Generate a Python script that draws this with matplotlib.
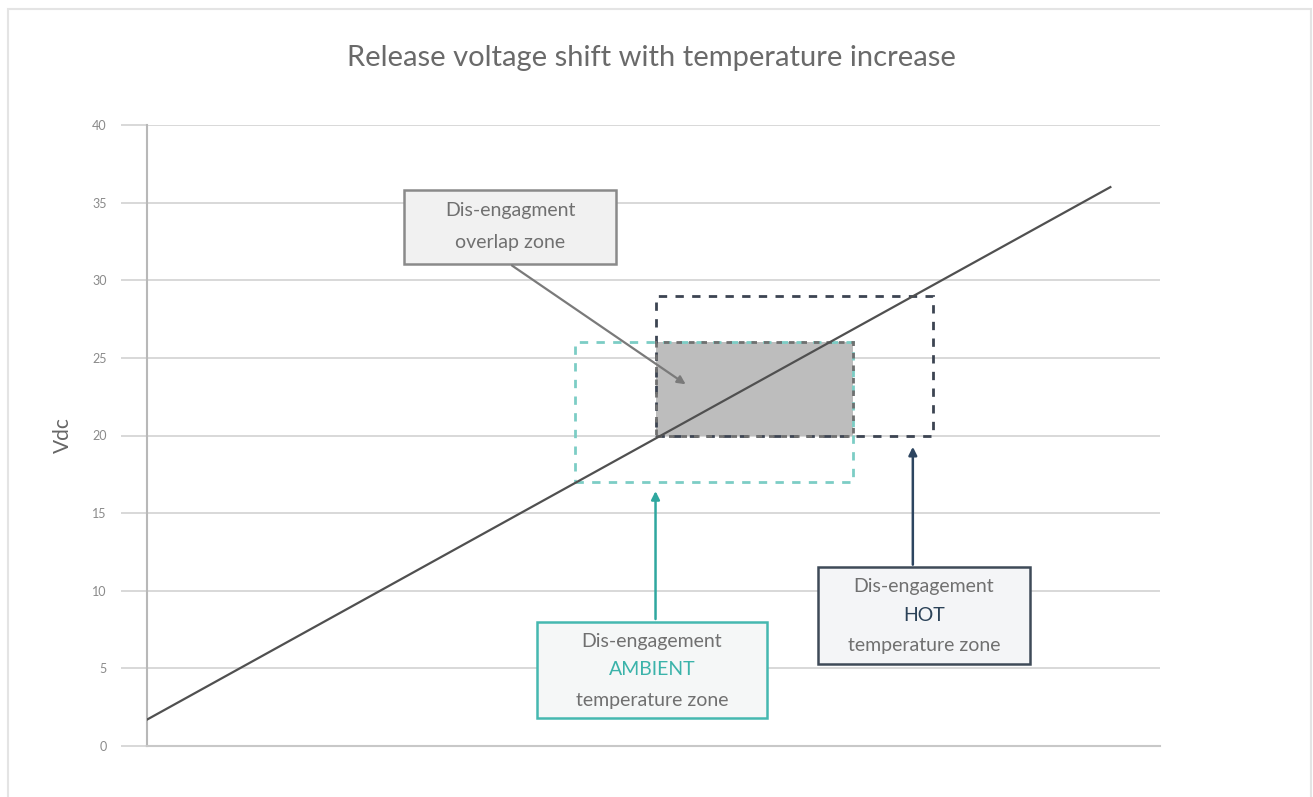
import matplotlib.pyplot as plt
from matplotlib.patches import Rectangle

plt.rcParams['font.family'] = ['Lato', 'DejaVu Sans']

# release voltage trend line (x is a relative temperature scale 0..100)
line_x = [0, 95.1]
line_y = [1.7, 36.0]

# dis-engagement zones: (x0, x1, v0, v1)
overlap_zone = [50.2, 69.7, 20, 26]
ambient_zone = [42.3, 69.7, 17, 26]
hot_zone = [50.2, 77.6, 20, 29]

yticks = [0, 5, 10, 15, 20, 25, 30, 35, 40]

fig = plt.figure(figsize=(13.13, 7.97), dpi=100)
ax = fig.add_axes([147/1313, 1-746/797, (1160-147)/1313, (746-125)/797])

# outer light frame
fig.patches.append(Rectangle((8/1313, -0.02), (1311-8)/1313, 1-9/797+0.02,
                             transform=fig.transFigure, fill=False,
                             edgecolor='#e4e4e4', lw=1.5))

ax.set_xlim(0, 100)
ax.set_ylim(0, 40)
ax.set_yticks(yticks)
ax.set_xticks([])
ax.yaxis.grid(True, color='#d6d6d6', lw=1.3)
ax.set_axisbelow(True)
for s in ['top', 'right']:
    ax.spines[s].set_visible(False)
ax.spines['left'].set_color('#b8b8b8')
ax.spines['left'].set_linewidth(1.5)
ax.spines['bottom'].set_color('#c8c8c8')
ax.spines['bottom'].set_linewidth(1.5)
ax.tick_params(axis='y', length=19, color='#d6d6d6', width=1.3, labelsize=9,
               labelcolor='#8a8a8a', pad=10)
ax.set_ylabel('Vdc', fontsize=15, color='#666666', labelpad=14)
fig.text(0.4965, 1-58/797, 'Release voltage shift with temperature increase',
         ha='center', va='center', fontsize=21, color='#6a6a6a')

# zones
x0, x1, v0, v1 = overlap_zone
ax.add_patch(Rectangle((x0, v0), x1-x0, v1-v0, facecolor='#bdbdbd',
                       edgecolor='none', zorder=2))
x0, x1, v0, v1 = ambient_zone
ax.add_patch(Rectangle((x0, v0), x1-x0, v1-v0, fill=False, edgecolor='#7ccdc5',
                       lw=2, ls=(0, (3, 3)), zorder=3))
x0, x1, v0, v1 = hot_zone
ax.add_patch(Rectangle((x0, v0), x1-x0, v1-v0, fill=False, edgecolor='#3c4452',
                       lw=2, ls=(0, (3, 3)), zorder=3))
x0, x1, v0, v1 = overlap_zone
ax.add_patch(Rectangle((x0, v0), x1-x0, v1-v0, fill=False, edgecolor='#707070',
                       lw=2, ls=(0, (2, 2.5)), zorder=3))

ax.plot(line_x, line_y, color='#505050', lw=1.6, zorder=4)

# annotation boxes
def label_box(bx0, bx1, by0, by1, fc, ec, lw):
    ax.add_patch(Rectangle((bx0, by0), bx1-bx0, by1-by0, facecolor=fc,
                           edgecolor=ec, lw=lw, zorder=5))

fs = 14
label_box(25.4, 46.3, 31.05, 35.8, '#f1f1f1', '#8a8a8a', 1.8)
ax.text(35.85, 34.5, 'Dis-engagment', ha='center', va='center', fontsize=fs,
        color='#707070', zorder=6)
ax.text(35.85, 32.4, 'overlap zone', ha='center', va='center', fontsize=fs,
        color='#707070', zorder=6)
ax.annotate('', xy=(53.4, 23.2), xytext=(35.8, 31.05),
            arrowprops=dict(arrowstyle='-|>', color='#7a7a7a', lw=1.6,
                            mutation_scale=12), zorder=6)

label_box(38.5, 61.2, 1.8, 8.0, '#f5f7f7', '#45b8b0', 1.8)
ax.text(49.85, 6.75, 'Dis-engagement', ha='center', va='center', fontsize=fs,
        color='#707070', zorder=6)
ax.text(49.85, 4.9, 'AMBIENT', ha='center', va='center', fontsize=fs,
        color='#3bb3aa', zorder=6)
ax.text(49.85, 2.95, 'temperature zone', ha='center', va='center', fontsize=fs,
        color='#707070', zorder=6)
ax.annotate('', xy=(50.2, 16.6), xytext=(50.2, 8.0),
            arrowprops=dict(arrowstyle='-|>', color='#2fa79f', lw=1.8,
                            mutation_scale=12), zorder=6)

label_box(66.2, 87.2, 5.3, 11.5, '#f4f5f7', '#3e4a58', 1.8)
ax.text(76.7, 10.3, 'Dis-engagement', ha='center', va='center', fontsize=fs,
        color='#707070', zorder=6)
ax.text(76.7, 8.4, 'HOT', ha='center', va='center', fontsize=fs,
        color='#2b4258', zorder=6)
ax.text(76.7, 6.45, 'temperature zone', ha='center', va='center', fontsize=fs,
        color='#707070', zorder=6)
ax.annotate('', xy=(75.6, 19.45), xytext=(75.6, 11.5),
            arrowprops=dict(arrowstyle='-|>', color='#2d4560', lw=1.8,
                            mutation_scale=12), zorder=6)

fig.savefig('out.png', dpi=100)
